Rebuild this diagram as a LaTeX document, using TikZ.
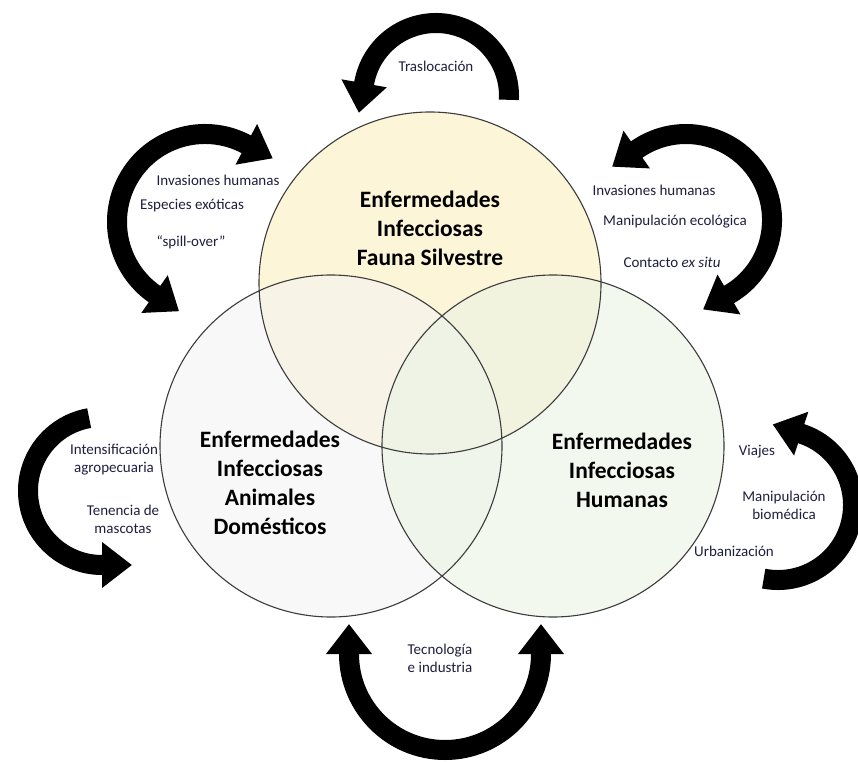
\documentclass[tikz,border=0pt]{standalone}
\usepackage{fontspec}
\setmainfont{Carlito}
\usetikzlibrary{arrows.meta,calc}

\definecolor{fauna}{RGB}{251,238,190}
\definecolor{pets}{RGB}{243,243,243}
\definecolor{people}{RGB}{235,243,228}
\definecolor{rim}{RGB}{60,60,60}
\definecolor{ink}{RGB}{30,30,62}

\begin{document}
\begin{tikzpicture}[x=1pt,y=1pt,>={Triangle[width=44pt,length=30pt]}]
\tikzstyle{disease}=[circle,minimum size=342pt,inner sep=0pt,fill opacity=0.6]
\tikzstyle{title}=[font=\fontsize{23.5}{29}\selectfont\bfseries,align=center,text=black]
\tikzstyle{cause}=[font=\fontsize{15}{18}\selectfont,align=center,text=ink]
\tikzstyle{band}=[line width=20pt,black]

\useasboundingbox (0,0) rectangle (858,761);

% the three overlapping circles
\node[disease,fill=fauna] (wild) at (430,478) {};
\node[disease,fill=pets] (dom) at (331,315) {};
\node[disease,fill=people] (hum) at (553,315) {};
\foreach \n in {dom,hum,wild}
  \draw[rim,line width=1.1pt] (\n.center) circle[radius=171pt];

\node[title] (wildtxt) at (430,533) {Enfermedades\\Infecciosas\\Fauna Silvestre};
\node[title] (domtxt) at (270,278) {Enfermedades\\Infecciosas\\Animales\\Domésticos};
\node[title] (humtxt) at (622,291) {Enfermedades\\Infecciosas\\Humanas};

% curved arrows
\coordinate (c1) at (436,665);
\coordinate (c2) at (205,539);
\coordinate (c3) at (686,541);
\coordinate (c4) at (102,270);
\coordinate (c5) at (778,256);
\coordinate (c6) at (445,107);

\draw[band,->] ($(c1)+(-3:73)$) arc[start angle=-3,end angle=170,radius=73pt] -- ++(260:30);
\draw[band,<->] ($(c2)+(62:88)+(-28:30)$) -- ($(c2)+(62:88)$)
  arc[start angle=62,end angle=235,radius=88pt] -- ++(325:30);
\draw[band,<->] ($(c3)+(-60:86)+(210:30)$) -- ($(c3)+(-60:86)$)
  arc[start angle=-60,end angle=125,radius=86pt] -- ++(215:30);
\draw[band,->] ($(c4)+(100:74)$) arc[start angle=100,end angle=270,radius=74pt] -- ++(0:30);
\draw[band,->] ($(c5)+(-101:75)$) arc[start angle=-101,end angle=72,radius=75pt] -- ++(162:30);
\draw[band,<->] ($(c6)+(180:96)+(90:30)$) -- ($(c6)+(180:96)$)
  arc[start angle=180,end angle=360,radius=96pt] -- ++(90:30);

% labels
\node[cause] (trasl) at (436,695) {Traslocación};

\node[cause] (inv1) at (218,581) {Invasiones humanas};
\node[cause] (exot) at (192,555) {Especies exóticas};
\node[cause] (spill) at (191,519) {“spill-over”};

\node[cause] (inv2) at (654,571) {Invasiones humanas};
\node[cause] (ecol) at (675,539) {Manipulación ecológica};
\node[cause] (exsitu) at (672,499) {Contacto \textit{ex situ}};

\node[cause] (agro) at (114,301) {Intensificación\\agropecuaria};
\node[cause] (masc) at (123,242) {Tenencia de\\mascotas};

\node[cause] (viaj) at (757,309) {Viajes};
\node[cause] (biom) at (784,256) {Manipulación\\biomédica};
\node[cause] (urb) at (734,210) {Urbanización};

\node[cause] (tecn) at (440,103) {Tecnología\\e industria};

\end{tikzpicture}
\end{document}
